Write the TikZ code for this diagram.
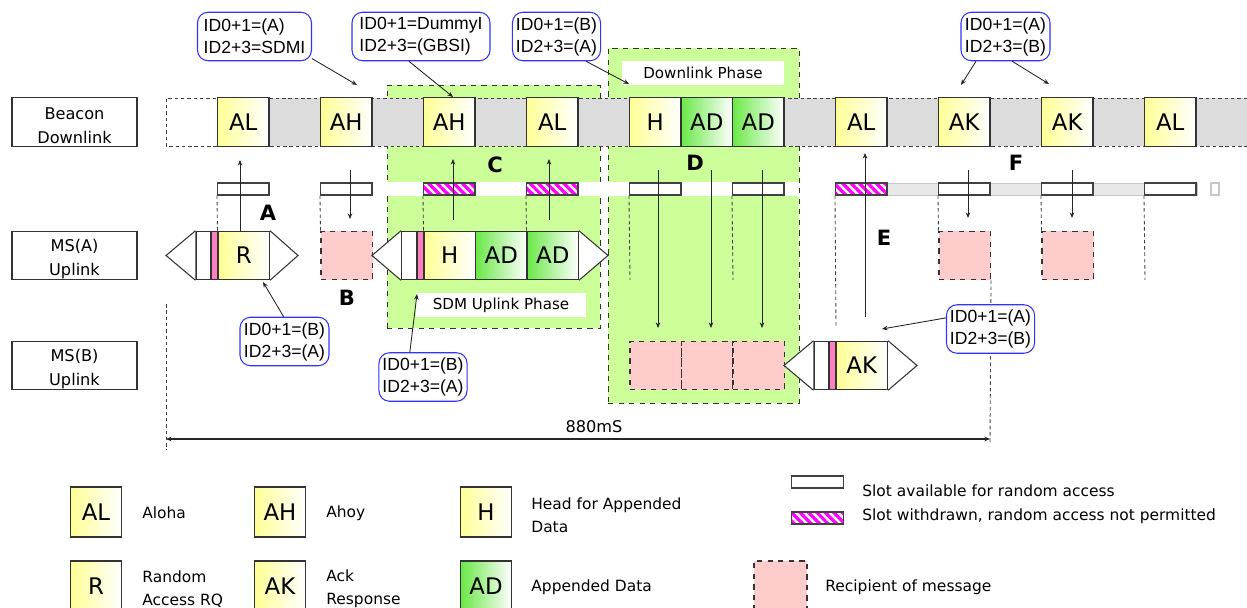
\documentclass[tikz,border=0pt]{standalone}
\usepackage{fontspec}
\setmainfont{DejaVu Sans}
\newfontfamily\arialf{Liberation Sans}
\usetikzlibrary{arrows.meta,patterns.meta}
\definecolor{yel}{RGB}{255,255,150}
\definecolor{grn}{RGB}{105,232,70}
\definecolor{phasec}{RGB}{204,255,153}
\definecolor{stripg}{RGB}{220,220,220}
\definecolor{rcp}{RGB}{255,204,204}
\definecolor{pstrip}{RGB}{255,128,192}
\definecolor{hatchm}{RGB}{255,0,255}
\definecolor{cblue}{RGB}{50,50,255}
\tikzset{
  slotY/.style={draw=black!80, line width=0.6pt, left color=yel, right color=white,
    minimum width=1.03cm, minimum height=0.97cm, inner sep=0pt, font=\fontsize{13}{15}\selectfont},
  slotG/.style={slotY, left color=grn, right color=white},
  rcpt/.style={draw=black!80, dashed, line width=0.6pt, fill=rcp, minimum width=1.03cm, minimum height=0.97cm, inner sep=0pt},
  ra/.style={draw=black!75, line width=0.6pt, fill=white, minimum width=1.03cm, minimum height=0.24cm, inner sep=0pt},
  rah/.style={draw=black!75, line width=0.6pt, minimum width=1.03cm, minimum height=0.24cm, inner sep=0pt,
    preaction={fill=white}, preaction={pattern={Lines[angle=-45,distance=3.4pt,line width=1.9pt]}, pattern color=hatchm}},
  wpart/.style={draw=black!80, line width=0.6pt, fill=white, minimum width=0.3cm, minimum height=0.97cm, inner sep=0pt},
  ppart/.style={draw=black!80, line width=0.6pt, fill=pstrip, minimum width=0.14cm, minimum height=0.97cm, inner sep=0pt},
  tri/.style={draw=black!80, line width=0.6pt, fill=white},
  phase/.style={draw=black!80, dashed, line width=0.5pt, fill=phasec, inner sep=0pt},
  plabel/.style={fill=white, inner sep=0pt, font=\fontsize{8.6}{10}\selectfont},
  callout/.style={draw=cblue, line width=0.6pt, rounded corners=6pt, fill=white, align=left,
    font=\arialf\fontsize{10}{12.5}\selectfont, inner xsep=2pt, inner ysep=1pt, minimum height=0.97cm},
  rowbox/.style={draw=black!80, line width=0.6pt, fill=white, minimum width=2.5cm, minimum height=0.97cm, inner sep=0pt},
  rowtxt/.style={align=center, font=\fontsize{9.2}{13.6}\selectfont, inner sep=0pt},
  lgtxt/.style={anchor=west, align=left, font=\fontsize{8.8}{13}\selectfont, inner sep=0pt},
  letter/.style={font=\bfseries\fontsize{12}{14}\selectfont, inner sep=0pt},
  arr/.style={-{Stealth[length=3.2pt,width=2.6pt]}, line width=0.5pt, black!85},
  dl/.style={dash pattern=on 2pt off 1.6pt, line width=0.5pt, black!75},
}
\begin{document}
\begin{tikzpicture}[x=0.02cm,y=-0.02cm]
\useasboundingbox (0,0) rectangle (1247,608);

% ---- phase regions
\node[phase, minimum width=4.26cm, minimum height=4.86cm] (phC) at (493.5,206.5) {};
\node[phase, minimum width=3.82cm, minimum height=7.1cm] (phD) at (703.5,225.5) {};
\fill[white] (387,182) rectangle (799,196);
\node[plabel, minimum width=3.24cm, minimum height=0.48cm] (dlp) at (703,73) {Downlink Phase};
\node[plabel, minimum width=3.4cm, minimum height=0.48cm] (sdm) at (501,305) {SDM Uplink Phase};

% ---- row labels
\node[rowbox] (lbcn) at (74.5,122) {};
\node[rowtxt] (tbcn) at (74.5,126) {Beacon\\Downlink};
\node[rowbox] (lmsa) at (74.5,255.5) {};
\node[rowtxt] (tmsa) at (74.5,259) {MS(A)\\Uplink};
\node[rowbox] (lmsb) at (74.5,365.5) {};
\node[rowtxt] (tmsb) at (74.5,369) {MS(B)\\Uplink};

% ---- beacon strip
\fill[stripg] (218,98) rectangle (1247,146);
\draw[dl] (1247,98) -- (166,98) -- (166,146) -- (1247,146);
\foreach \k/\t/\s in {1/AL/slotY,3/AH/slotY,5/AH/slotY,7/AL/slotY,9/H/slotY,10/AD/slotG,11/AD/slotG,13/AL/slotY,15/AK/slotY,17/AK/slotY,19/AL/slotY}
  \node[\s] (b\k) at ({191.75+51.5*\k},122) {\t};

% ---- random access slots
\draw[draw=black!22, fill=black!9] (836,183) rectangle (1197,195);
\foreach \k in {1,3,9,11,15,17,19}
  \node[ra] (r\k) at ({191.75+51.5*\k},189) {};
\foreach \k in {5,7,13}
  \node[rah] (r\k) at ({191.75+51.5*\k},189) {};
\node[ra, draw=black!22, minimum width=0.16cm] (rend) at (1215,189) {};

% ---- recipient boxes
\node[rcpt] (rcB) at (346.75,255.5) {};
\node[rcpt] (rcF1) at (964.75,255.5) {};
\node[rcpt] (rcF2) at (1067.75,255.5) {};
\node[rcpt] (rcD1) at (655.75,365.5) {};
\node[rcpt] (rcD2) at (707.25,365.5) {};
\node[rcpt] (rcD3) at (758.75,365.5) {};

% ---- packet R (MS A)
\node[wpart] (pRw) at (203.5,255.5) {};
\node[ppart] (pRp) at (214.5,255.5) {};
\node[slotY] (pR) at (243.75,255.5) {R};
\coordinate (pRl) at (166,255.5);
\coordinate (pRr) at (298,255.5);
\draw[tri] (pRw.north west) -- (pRl) -- (pRw.south west);
\draw[tri] (pR.north east) -- (pRr) -- (pR.south east);

% ---- packet C (MS A)
\node[wpart] (pCw) at (409,255.5) {};
\node[ppart] (pCp) at (420.5,255.5) {};
\node[slotY] (pH) at (449.75,255.5) {H};
\node[slotG] (pAD1) at (501.25,255.5) {AD};
\node[slotG] (pAD2) at (552.75,255.5) {AD};
\coordinate (pCl) at (372,255.5);
\coordinate (pCr) at (608,255.5);
\draw[tri] (pCw.north west) -- (pCl) -- (pCw.south west);
\draw[tri] (pAD2.north east) -- (pCr) -- (pAD2.south east);

% ---- packet AK (MS B)
\node[wpart] (pKw) at (821.5,365.5) {};
\node[ppart] (pKp) at (832.5,365.5) {};
\node[slotY] (pK) at (861.75,365.5) {AK};
\coordinate (pKl) at (784,365.5);
\coordinate (pKr) at (917,365.5);
\draw[tri] (pKw.north west) -- (pKl) -- (pKw.south west);
\draw[tri] (pK.north east) -- (pKr) -- (pK.south east);

% ---- dashed verticals
\coordinate (d9) at (630,280);
\coordinate (d11) at (733,280);
\coordinate (d13) at (836,327);
\coordinate (d19) at (1145,280);
\draw[dl] (r1.south west) -- (pR.north west);
\draw[dl] (r3.south west) -- (rcB.north west);
\draw[dl] (r5.south west) -- (pH.north west);
\draw[dl] (r7.south west) -- (pAD2.north west);
\draw[dl] (r9.south west) -- (d9);
\draw[dl] (r11.south west) -- (d11);
\draw[dl] (r13.south west) -- (d13);
\draw[dl] (r15.south west) -- (rcF1.north west);
\draw[dl] (r17.south west) -- (rcF2.north west);
\draw[dl] (r19.south west) -- (d19);

% ---- arrows
\coordinate (aA0) at (240,231);  \coordinate (aA1) at (240,160);
\coordinate (aB0) at (350,170);  \coordinate (aB1) at (350,219);
\coordinate (aC0) at (453,220);  \coordinate (aC1) at (453,159);
\coordinate (aC2) at (549,220);  \coordinate (aC3) at (549,159);
\coordinate (aD0) at (658,170);  \coordinate (aD1) at (658,328);
\coordinate (aD2) at (711,170);  \coordinate (aD3) at (711,328);
\coordinate (aD4) at (762,170);  \coordinate (aD5) at (762,328);
\coordinate (aE0) at (865,317);  \coordinate (aE1) at (865,153);
\coordinate (aF0) at (968,170);  \coordinate (aF1) at (968,218);
\coordinate (aF2) at (1072,170); \coordinate (aF3) at (1072,218);
\draw[arr] (aA0) -- (aA1);
\draw[arr] (aB0) -- (aB1);
\draw[arr] (aC0) -- (aC1);
\draw[arr] (aC2) -- (aC3);
\draw[arr] (aD0) -- (aD1);
\draw[arr] (aD2) -- (aD3);
\draw[arr] (aD4) -- (aD5);
\draw[arr] (aE0) -- (aE1);
\draw[arr] (aF0) -- (aF1);
\draw[arr] (aF2) -- (aF3);

% ---- letters
\node[letter] (lA) at (268,213) {A};
\node[letter] (lB) at (347,298) {B};
\node[letter] (lC) at (495,165) {C};
\node[letter] (lD) at (695,163) {D};
\node[letter] (lE) at (884,238) {E};
\node[letter] (lF) at (1016,163) {F};

% ---- 880 ms span
\coordinate (sL0) at (166,304); \coordinate (sL1) at (166,450);
\coordinate (sR1) at (990,443);
\coordinate (mL) at (166,439); \coordinate (mR) at (990,439);
\draw[dl] (sL0) -- (sL1);
\draw[dl] (rcF1.south east) -- (sR1);
\draw[{Stealth[length=3.2pt,width=2.6pt]}-{Stealth[length=3.2pt,width=2.6pt]}, line width=0.6pt, black!85] (mL) -- (mR);
\node[font=\fontsize{9.2}{11}\selectfont, inner sep=0pt] (t880) at (594,427) {880mS};

% ---- callouts
\node[callout, minimum width=2.28cm] (c1) at (254.5,36.5) {ID0+1=(A)\\ID2+3=SDMI};
\node[callout, minimum width=2.76cm] (c2) at (421,36.5) {ID0+1=DummyI\\ID2+3=(GBSI)};
\node[callout, minimum width=1.76cm] (c3) at (556.5,36.5) {ID0+1=(B)\\ID2+3=(A)};
\node[callout, minimum width=1.78cm] (c4) at (1005.5,36.5) {ID0+1=(A)\\ID2+3=(B)};
\node[callout, minimum width=1.78cm] (c5) at (284.5,341.5) {ID0+1=(B)\\ID2+3=(A)};
\node[callout, minimum width=1.76cm] (c6) at (423,377) {ID0+1=(B)\\ID2+3=(A)};
\node[callout, minimum width=1.74cm] (c7) at (990.5,329) {ID0+1=(A)\\ID2+3=(B)};
\coordinate (e1) at (357,85);
\coordinate (e2) at (453,97);
\coordinate (e3) at (629,84);
\coordinate (e4a) at (961,85);
\coordinate (e4b) at (1049,84);
\coordinate (e5) at (263,282);
\coordinate (e6) at (417,294);
\coordinate (e7) at (882,329);
\draw[arr] (c1.339) -- (e1);
\draw[arr] (c2.244) -- (e2);
\draw[arr] (c3.320) -- (e3);
\draw[arr] (c4.220) -- (e4a);
\draw[arr] (c4.285) -- (e4b);
\draw[arr] (c5.92) -- (e5);
\draw[arr] (c6.118) -- (e6);
\draw[arr] (c7.166) -- (e7);

% ---- legend
\node[slotY, minimum height=1cm] (gAL) at (96,512) {AL};
\node[lgtxt] (gALt) at (142,513) {Aloha};
\node[slotY, minimum height=1cm] (gAH) at (280,512) {AH};
\node[lgtxt] (gAHt) at (326,513) {Ahoy};
\node[slotY, minimum height=1cm] (gH) at (486,512) {H};
\node[lgtxt] (gHt) at (531,515) {Head for Appended\\Data};
\node[slotY, minimum height=1cm] (gR) at (96,586) {R};
\node[lgtxt] (gRt) at (142,589) {Random\\Access RQ};
\node[slotY, minimum height=1cm] (gAK) at (280,586) {AK};
\node[lgtxt] (gAKt) at (326,589) {Ack\\Response};
\node[slotG, minimum height=1cm] (gAD) at (486,586) {AD};
\node[lgtxt] (gADt) at (531,587) {Appended Data};
\node[ra] (gra) at (817.5,482) {};
\node[lgtxt] (grat) at (862,491) {Slot available for random access};
\node[rah] (grh) at (817.5,518) {};
\node[lgtxt] (grht) at (862,516) {Slot withdrawn, random access not permitted};
\node[rcpt, minimum width=1.06cm, minimum height=1cm] (grc) at (780.5,586) {};
\node[lgtxt] (grct) at (825,587) {Recipient of message};
\end{tikzpicture}
\end{document}
